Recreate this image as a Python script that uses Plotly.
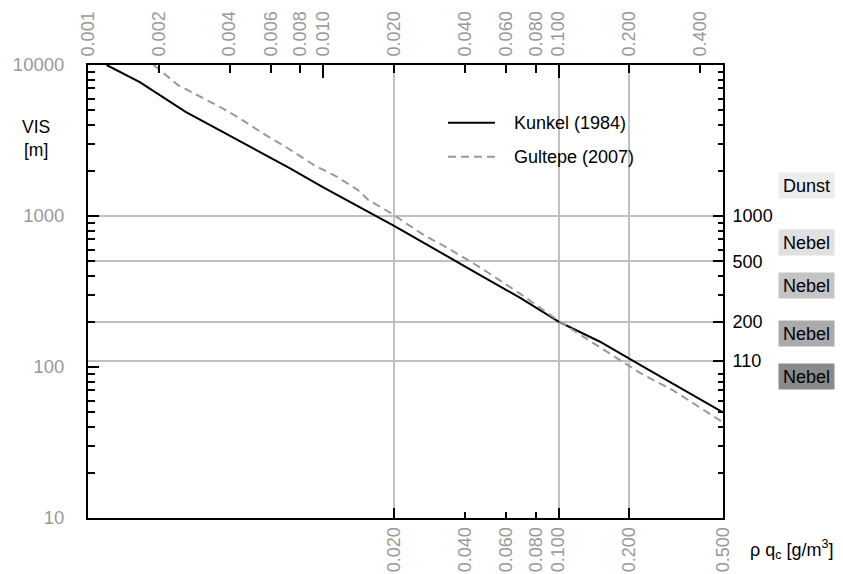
import math
import plotly.graph_objects as go

# Liquid water content rho*q_c [g/m^3] versus visibility VIS [m]
kunkel_lwc = [0.0012, 0.00166, 0.0026, 0.0071, 0.01, 0.02, 0.0466, 0.069, 0.1, 0.15, 0.223, 0.309, 0.5]
kunkel_vis = [10000, 7700, 4900, 2100, 1550, 860, 405, 286, 200, 147, 103, 77, 50]

gultepe_lwc = [0.0019, 0.0024, 0.0037, 0.0044, 0.0055, 0.0071, 0.0091, 0.0115, 0.014, 0.0155,
               0.0193, 0.026, 0.0294, 0.0337, 0.0466, 0.069, 0.1, 0.151, 0.223, 0.307, 0.5]
gultepe_vis = [10000, 7400, 5200, 4450, 3550, 2800, 2180, 1810, 1490, 1280,
               1050, 770, 690, 615, 455, 304, 202, 134, 91, 70, 43]

series_names = ["Kunkel (1984)", "Gultepe (2007)"]

# Axis ticks
bottom_ticks = [0.02, 0.04, 0.06, 0.08, 0.1, 0.2, 0.5]
top_ticks = [0.001, 0.002, 0.004, 0.006, 0.008, 0.01, 0.02, 0.04, 0.06, 0.08, 0.1, 0.2, 0.4]
top_long_ticks = [0.01, 0.1]
grid_x = [0.02, 0.1, 0.2]
left_ticks = [10, 100, 1000, 10000]
right_ticks = [1000, 500, 200, 110]
log_minor = [k * 10 ** e for e in (1, 2, 3) for k in range(2, 10)]

# Visibility classes shown beside the right axis
class_labels = ["Dunst", "Nebel", "Nebel", "Nebel", "Nebel"]
class_colors = ["#ececec", "#e0e0e0", "#c4c4c4", "#ababab", "#8a8a8a"]
class_px_y = [185.5, 242, 285.5, 333, 376.5]

W, H = 843, 574
L, R, T, B = 88, 723, 65, 518
FONT = "Liberation Sans, Arial, Helvetica, sans-serif"
GRAY = "#999999"
GRID = "#c0c0c0"
FS = 18


def px_x(px):
    return (px - L) / (R - L)


def px_y(py):
    return (B - py) / (B - T)


xr = [math.log10(0.001), math.log10(0.5)]
yr = [1, 4]

fig = go.Figure()
fig.add_trace(go.Scatter(x=kunkel_lwc, y=kunkel_vis, mode="lines", name=series_names[0],
                         line=dict(color="black", width=2)))
fig.add_trace(go.Scatter(x=gultepe_lwc, y=gultepe_vis, mode="lines", name=series_names[1],
                         line=dict(color="#999999", width=2, dash="8px,5px")))
# Empty traces so that the extra tick/grid axes are drawn
for xa, ya in (("x2", "y"), ("x3", "y"), ("x4", "y"), ("x", "y2")):
    fig.add_trace(go.Scatter(x=[], y=[], xaxis=xa, yaxis=ya, mode="lines",
                             hoverinfo="skip", showlegend=False))

tick_common = dict(ticks="inside", tickcolor="black", tickwidth=2, zeroline=False, automargin=False)

fig.update_layout(
    width=W, height=H,
    margin=dict(l=L, r=W - R, t=T, b=H - B, pad=0),
    plot_bgcolor="white", paper_bgcolor="white",
    font=dict(family=FONT, size=FS, color="black"),
    showlegend=False,
    xaxis=dict(type="log", range=xr, tickmode="array", tickvals=bottom_ticks,
               ticktext=[f"{v:.3f}" for v in bottom_ticks], tickangle=-90, ticklen=6,
               tickfont=dict(color=GRAY, size=FS), showgrid=False,
               showline=True, linecolor="black", linewidth=2, **tick_common),
    xaxis2=dict(type="log", range=xr, overlaying="x", side="top", anchor="y",
                tickmode="array", tickvals=top_ticks,
                ticktext=[f"{v:.3f}" for v in top_ticks], tickangle=-90, ticklen=8,
                tickfont=dict(color=GRAY, size=FS), showgrid=False, ticklabelstandoff=3,
                showline=True, linecolor="black", linewidth=2, **tick_common),
    xaxis3=dict(type="log", range=xr, overlaying="x", side="bottom", anchor="y",
                tickmode="array", tickvals=grid_x, showticklabels=False, ticklen=10,
                showgrid=True, gridcolor=GRID, gridwidth=2, showline=False, **tick_common),
    xaxis4=dict(type="log", range=xr, overlaying="x", side="top", anchor="y",
                tickmode="array", tickvals=top_long_ticks, showticklabels=False, ticklen=13,
                showgrid=False, showline=False, **tick_common),
    yaxis=dict(type="log", range=yr, tickmode="array", tickvals=left_ticks,
               ticktext=[str(v) for v in left_ticks], ticklen=11,
               tickfont=dict(color=GRAY, size=18.5), showgrid=False, ticklabelstandoff=18,
               minor=dict(tickmode="array", tickvals=log_minor, ticks="inside", ticklen=7,
                          tickwidth=2, tickcolor="black", showgrid=False),
               showline=True, linecolor="black", linewidth=2, **tick_common),
    yaxis2=dict(type="log", range=yr, overlaying="y", side="right", anchor="x",
                tickmode="array", tickvals=right_ticks,
                ticktext=[str(v) for v in right_ticks], ticklen=10,
                tickfont=dict(color="black", size=FS), ticklabelstandoff=4,
                showgrid=True, gridcolor=GRID, gridwidth=2,
                minor=dict(tickmode="array", tickvals=log_minor, ticks="inside", ticklen=5,
                           tickwidth=2, tickcolor="black", showgrid=False),
                showline=True, linecolor="black", linewidth=2, **tick_common),
)

shapes = []
annotations = []

# Legend drawn inside the plot area
legend_rows = [(122.7, dict(color="black", width=2)),
               (156.7, dict(color="#999999", width=2, dash="8px,5px"))]
for name, (py, style) in zip(series_names, legend_rows):
    shapes.append(dict(type="line", xref="paper", yref="paper",
                       x0=px_x(448), x1=px_x(495), y0=px_y(py), y1=px_y(py), line=style))
    annotations.append(dict(text=name, xref="paper", yref="paper", x=px_x(512), y=px_y(py),
                            xanchor="left", yanchor="middle", showarrow=False,
                            font=dict(size=FS, color="black")))

# Axis titles
annotations.append(dict(text="VIS<br>[m]", xref="paper", yref="paper", x=px_x(36), y=px_y(138),
                        xanchor="center", yanchor="middle", showarrow=False,
                        font=dict(size=17.5, color="black")))
annotations.append(dict(text="\u03c1 q<sub>c</sub> [g/m<sup>3</sup>]", xref="paper", yref="paper",
                        x=px_x(748), y=px_y(549), xanchor="left", yanchor="middle",
                        showarrow=False, font=dict(size=18, color="black")))

# Visibility class boxes
for label, color, py in zip(class_labels, class_colors, class_px_y):
    annotations.append(dict(text=label, xref="paper", yref="paper", x=px_x(806.5), y=px_y(py),
                            xanchor="center", yanchor="middle", showarrow=False,
                            width=55, height=25, bgcolor=color, borderpad=0,
                            font=dict(size=FS, color="black")))

fig.update_layout(shapes=shapes, annotations=annotations)
fig.write_html("out.html")
